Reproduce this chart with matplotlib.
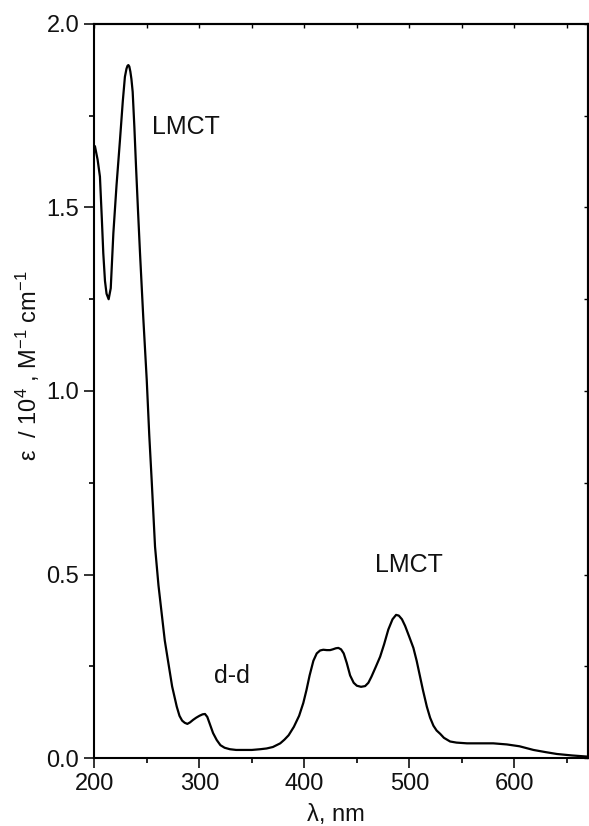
import matplotlib
matplotlib.use("Agg")
import matplotlib.pyplot as plt
from matplotlib.ticker import MultipleLocator, FormatStrFormatter

plt.rcParams['font.family'] = ['Liberation Sans', 'DejaVu Sans']
plt.rcParams['mathtext.default'] = 'regular'

# absorption spectrum
wavelength = [200.5, 203, 205.2, 207, 208.4, 210, 211.5, 213.5, 215.5, 218, 221, 224.3, 227,
              229, 230.5, 231.5, 232.3, 233.2, 234.2, 235.2, 236.4, 238, 239.6, 241.5, 243.4,
              246.5, 249.8, 252.2, 254.5, 257.7, 261, 264, 267, 270.4, 274, 278.4, 281,
              283.5, 286, 288.5, 291, 294, 297, 300, 303, 305.3, 307.5, 310, 313, 316.5,
              320, 324, 329, 335, 340, 350, 358, 364, 370, 377, 381, 385, 390, 395, 399, 402,
              405, 408.6, 411.8, 415, 418, 421.4, 424.5, 427, 430, 432.4, 435, 437.5, 440.4,
              443.6, 447, 450, 454, 457.9, 461, 464, 468, 472.2, 476, 480, 484, 487.4, 490,
              493, 496, 500, 503.9, 507, 510, 513, 516.7, 519.8, 523, 526, 529.4, 533, 538.9,
              545, 555, 570.6, 580, 593, 605, 618.3, 630, 640.6, 655, 669.2]
epsilon = [1.666, 1.63, 1.584, 1.47, 1.375, 1.30, 1.265, 1.250, 1.28, 1.43, 1.56, 1.684, 1.79,
           1.856, 1.878, 1.886, 1.888, 1.884, 1.870, 1.850, 1.815, 1.72, 1.611, 1.49, 1.375,
           1.20, 1.03, 0.88, 0.757, 0.576, 0.47, 0.395, 0.32, 0.259, 0.195, 0.140, 0.115,
           0.102, 0.096, 0.093, 0.097, 0.104, 0.110, 0.115, 0.119, 0.120, 0.112, 0.092,
           0.068, 0.049, 0.035, 0.028, 0.024, 0.022, 0.022, 0.022, 0.024, 0.026, 0.030,
           0.040, 0.050, 0.062, 0.085, 0.115, 0.150, 0.185, 0.225, 0.265, 0.285, 0.293,
           0.295, 0.294, 0.294, 0.296, 0.299, 0.300, 0.296, 0.285, 0.259, 0.225, 0.205,
           0.197, 0.194, 0.196, 0.205, 0.222, 0.248, 0.276, 0.31, 0.35, 0.378, 0.390, 0.388,
           0.378, 0.360, 0.330, 0.300, 0.265, 0.225, 0.185, 0.140, 0.110, 0.088, 0.075,
           0.066, 0.055, 0.045, 0.042, 0.040, 0.040, 0.040, 0.037, 0.032, 0.022, 0.016,
           0.011, 0.007, 0.004]

labels = ["LMCT", "d-d", "LMCT"]
label_pos = [(287, 1.72), (331, 0.223), (499.5, 0.526)]

fig = plt.figure(figsize=(5.89, 8.26), dpi=100)
ax = fig.add_axes([0.1604, 0.0823, 0.8374, 0.8887])

ax.plot(wavelength, epsilon, color='black', lw=1.6)

ax.set_xlim(200, 670)
ax.set_ylim(0, 2.0)
ax.xaxis.set_major_locator(MultipleLocator(100))
ax.xaxis.set_minor_locator(MultipleLocator(50))
ax.yaxis.set_major_locator(MultipleLocator(0.5))
ax.yaxis.set_minor_locator(MultipleLocator(0.25))
ax.yaxis.set_major_formatter(FormatStrFormatter('%.1f'))

ax.tick_params(which='major', direction='out', length=7, width=1.2, labelsize=17,
               pad=4, colors='#111111')
ax.tick_params(which='minor', direction='out', length=3.6, width=1.2)

# inward ticks on top and right
top = ax.secondary_xaxis('top')
top.xaxis.set_major_locator(MultipleLocator(100))
top.xaxis.set_minor_locator(MultipleLocator(50))
top.tick_params(which='both', direction='in', length=3, width=1.0, labeltop=False)
right = ax.secondary_yaxis('right')
right.yaxis.set_major_locator(MultipleLocator(0.5))
right.yaxis.set_minor_locator(MultipleLocator(0.25))
right.tick_params(which='both', direction='in', length=3, width=1.0, labelright=False)

for a in (ax, top, right):
    for s in a.spines.values():
        s.set_linewidth(1.5)

ax.set_xlabel('λ, nm', fontsize=17, color='#111111')
ax.xaxis.set_label_coords(0.4897, -0.062)
ax.set_ylabel('ε  / 10$^4$ , M$^{-1}$ cm$^{-1}$', fontsize=17, color='#111111')
ax.yaxis.set_label_coords(-0.107, 0.534)

for txt, (x, y) in zip(labels, label_pos):
    ax.text(x, y, txt, fontsize=18, ha='center', va='center', color='#111111')

fig.savefig('out.png', dpi=100)
